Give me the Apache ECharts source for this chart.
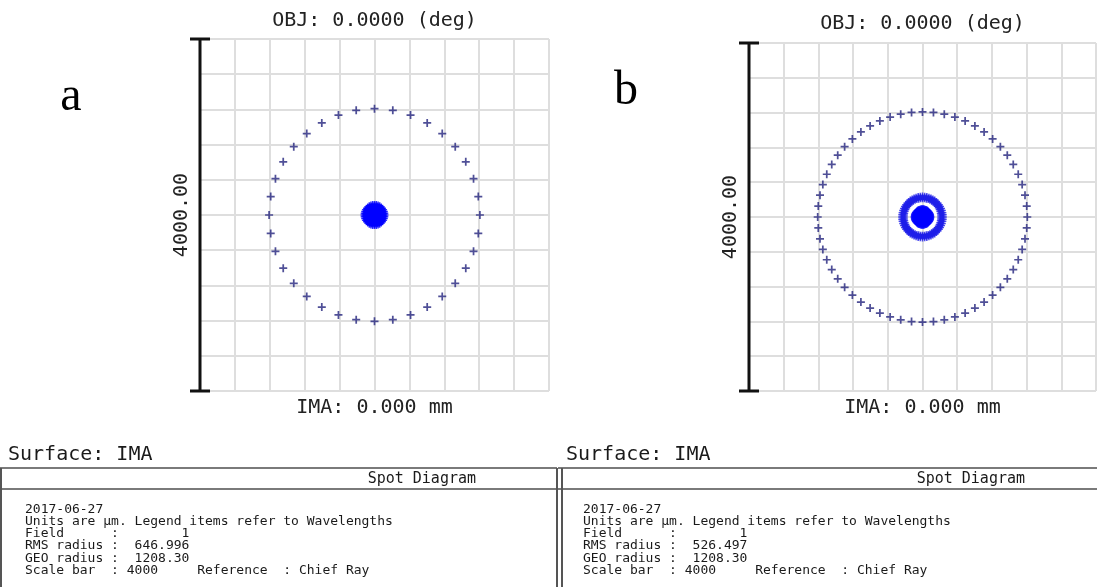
<!DOCTYPE html>
<html><head><meta charset="utf-8">
<script src="https://cdn.jsdelivr.net/npm/echarts@6/dist/echarts.min.js"></script>
<style>html,body{margin:0;padding:0;background:#fff}#c{width:1097px;height:587px}</style>
</head><body><div id="c"></div>
<script>
// ---------------- data ----------------
const panelLabels = ['a', 'b'];
const objTitle = 'OBJ: 0.0000 (deg)';
const imaTitle = 'IMA: 0.000 mm';
const scaleLabel = '4000.00';
const axisMin = -2000, axisMax = 2000, gridStep = 400;
const scaleBar = [[-2000, -2000, 2000]];

// panel a: spot positions in polar form (radius µm, angle deg)
const outerRadiusA = [1208];
const outerAnglesA = [0,10,20,30,40,50,60,70,80,90,100,110,120,130,140,150,160,170,180,190,200,210,220,230,240,250,260,270,280,290,300,310,320,330,340,350];
const coreRadiiA = [0, 15, 30, 45, 60, 75, 90, 105, 120];

// panel b
const outerRadiusB = [1208];
const outerAnglesB = [0,6,12,18,24,30,36,42,48,54,60,66,72,78,84,90,96,102,108,114,120,126,132,138,144,150,156,162,168,174,180,186,192,198,204,210,216,222,228,234,240,246,252,258,264,270,276,282,288,294,300,306,312,318,324,330,336,342,348,354];
const coreRadiiB = [0, 20, 40, 60, 80, 95];
const annulusRadiiB = [210, 225, 240];

// info boxes
const surfaceTitle = 'Surface: IMA';
const boxHeader = 'Spot Diagram';
const dateText = '2017-06-27';
const unitsText = 'Units are µm. Legend items refer to Wavelengths';
const rowLabels = ['Field', 'RMS radius', 'GEO radius', 'Scale bar'];
const fieldValue = '1';
const rmsRadiusA = '646.996';
const rmsRadiusB = '526.497';
const geoRadius = '1208.30';
const scaleBarValue = '4000';
const referenceLabel = 'Reference';
const referenceValue = 'Chief Ray';

// ---------------- chart ----------------
const MONO = '"DejaVu Sans Mono", "Liberation Mono", monospace';
const CROSS = 'path://M4.7,0H7.3V4.7H12V7.3H7.3V12H4.7V7.3H0V4.7H4.7Z';

function polarPts(radii, angles) {
  const out = [];
  radii.forEach(r => angles.forEach(a => {
    const t = a * Math.PI / 180;
    out.push([r * Math.sin(t), r * Math.cos(t)]);
  }));
  return out;
}

const grids = [
  {left: 200, top: 39, width: 349, height: 352},
  {left: 749, top: 43, width: 347, height: 348}
];

function xAx(i) {
  return {
    type: 'value', gridIndex: i, min: axisMin, max: axisMax, interval: gridStep,
    axisLine: {show: false}, axisTick: {show: false}, axisLabel: {show: false},
    splitLine: {show: true, lineStyle: {color: '#dedede', width: 2}},
    name: imaTitle, nameLocation: 'middle', nameGap: 7,
    nameTextStyle: {fontFamily: MONO, fontSize: 20, color: '#222'}
  };
}
function yAx(i) {
  return {
    type: 'value', gridIndex: i, min: axisMin, max: axisMax, interval: gridStep,
    axisLine: {show: false}, axisTick: {show: false}, axisLabel: {show: false},
    splitLine: {show: true, lineStyle: {color: '#dedede', width: 2}},
    name: scaleLabel, nameLocation: 'middle', nameGap: 8, nameRotate: 90,
    nameTextStyle: {fontFamily: MONO, fontSize: 20, color: '#222'}
  };
}

function scaleBarSeries(i) {
  return {
    type: 'custom', xAxisIndex: i, yAxisIndex: i, clip: false, silent: true, z: 5,
    data: scaleBar,
    renderItem: function (params, api) {
      const p0 = api.coord([api.value(0), api.value(1)]);
      const p1 = api.coord([api.value(0), api.value(2)]);
      const st = {stroke: '#111', lineWidth: 3};
      return {type: 'group', children: [
        {type: 'line', shape: {x1: p0[0], y1: p0[1], x2: p1[0], y2: p1[1]}, style: st},
        {type: 'line', shape: {x1: p0[0] - 10, y1: p0[1], x2: p0[0] + 10, y2: p0[1]}, style: st},
        {type: 'line', shape: {x1: p1[0] - 10, y1: p1[1], x2: p1[0] + 10, y2: p1[1]}, style: st}
      ]};
    }
  };
}

function spot(i, data, color, size) {
  return {type: 'scatter', xAxisIndex: i, yAxisIndex: i, data: data, symbol: CROSS,
    symbolSize: size, itemStyle: {color: color}, silent: true, z: 3};
}

// ---- info boxes as graphic elements (monospace, space-aligned like the original) ----
function infoBox(ox, width, headerRight, rms) {
  const x0 = ox + 25;
  const lineCol = '#7a7a7a';
  const els = [];
  const txt = (t, x, y, size, align) => els.push({type: 'text', x: x, y: y,
    style: {text: t, fontSize: size, fontFamily: MONO, fill: '#1a1a1a', align: align || 'left', verticalAlign: 'middle'}});
  const line = (x1, y1, x2, y2) => els.push({type: 'line', shape: {x1, y1, x2, y2}, style: {stroke: lineCol, lineWidth: 2}});
  txt(surfaceTitle, ox + 8, 455, 20);
  line(ox, 468, ox + width, 468);
  line(ox, 489, ox + width, 489);
  txt(boxHeader, headerRight, 479, 15, 'right');
  const vals = [fieldValue, rms, geoRadius];
  const rows = [dateText, unitsText];
  for (let k = 0; k < 3; k++) rows.push(rowLabels[k].padEnd(11) + ':' + vals[k].padStart(9));
  rows.push(rowLabels[3].padEnd(11) + ': ' + scaleBarValue + '     ' + referenceLabel.padEnd(11) + ': ' + referenceValue);
  const ys = [509.5, 521.5, 533.5, 546, 558.5, 570.5];
  rows.forEach((r, k) => txt(r, x0, ys[k], 13));
  return els;
}

const graphics = [
  {type: 'text', x: 374.5, y: 21, style: {text: objTitle, fontFamily: MONO, fontSize: 20, fill: '#222', align: 'center', verticalAlign: 'middle'}},
  {type: 'text', x: 922.5, y: 24, style: {text: objTitle, fontFamily: MONO, fontSize: 20, fill: '#222', align: 'center', verticalAlign: 'middle'}},
  {type: 'text', x: 71, y: 97, style: {text: panelLabels[0], fontFamily: '"Liberation Serif", serif', fontSize: 48, fill: '#000', align: 'center', verticalAlign: 'middle'}},
  {type: 'text', x: 626, y: 91, style: {text: panelLabels[1], fontFamily: '"Liberation Serif", serif', fontSize: 48, fill: '#000', align: 'center', verticalAlign: 'middle'}}
].concat(infoBox(0, 557, 476, rmsRadiusA), infoBox(558, 539, 1025, rmsRadiusB));
graphics.push({type: 'line', shape: {x1: 1, y1: 468, x2: 1, y2: 587}, style: {stroke: '#555', lineWidth: 2}});
graphics.push({type: 'line', shape: {x1: 557, y1: 468, x2: 557, y2: 587}, style: {stroke: '#555', lineWidth: 2}});
graphics.push({type: 'line', shape: {x1: 562, y1: 468, x2: 562, y2: 587}, style: {stroke: '#555', lineWidth: 2}});

const chart = echarts.init(document.getElementById('c'));
chart.setOption({
  animation: false,
  backgroundColor: '#fff',
  grid: grids,
  xAxis: [xAx(0), xAx(1)],
  yAxis: [yAx(0), yAx(1)],
  graphic: graphics,
  series: [
    spot(0, polarPts(outerRadiusA, outerAnglesA), '#23237d', 8),
    spot(0, polarPts(coreRadiiA, outerAnglesA), '#0000ff', 7),
    spot(1, polarPts(outerRadiusB, outerAnglesB), '#23237d', 8),
    spot(1, polarPts(coreRadiiB, outerAnglesB), '#0000ff', 7),
    spot(1, polarPts(annulusRadiiB, outerAnglesB), '#1e1ee8', 7),
    scaleBarSeries(0),
    scaleBarSeries(1)
  ]
});
</script></body></html>
